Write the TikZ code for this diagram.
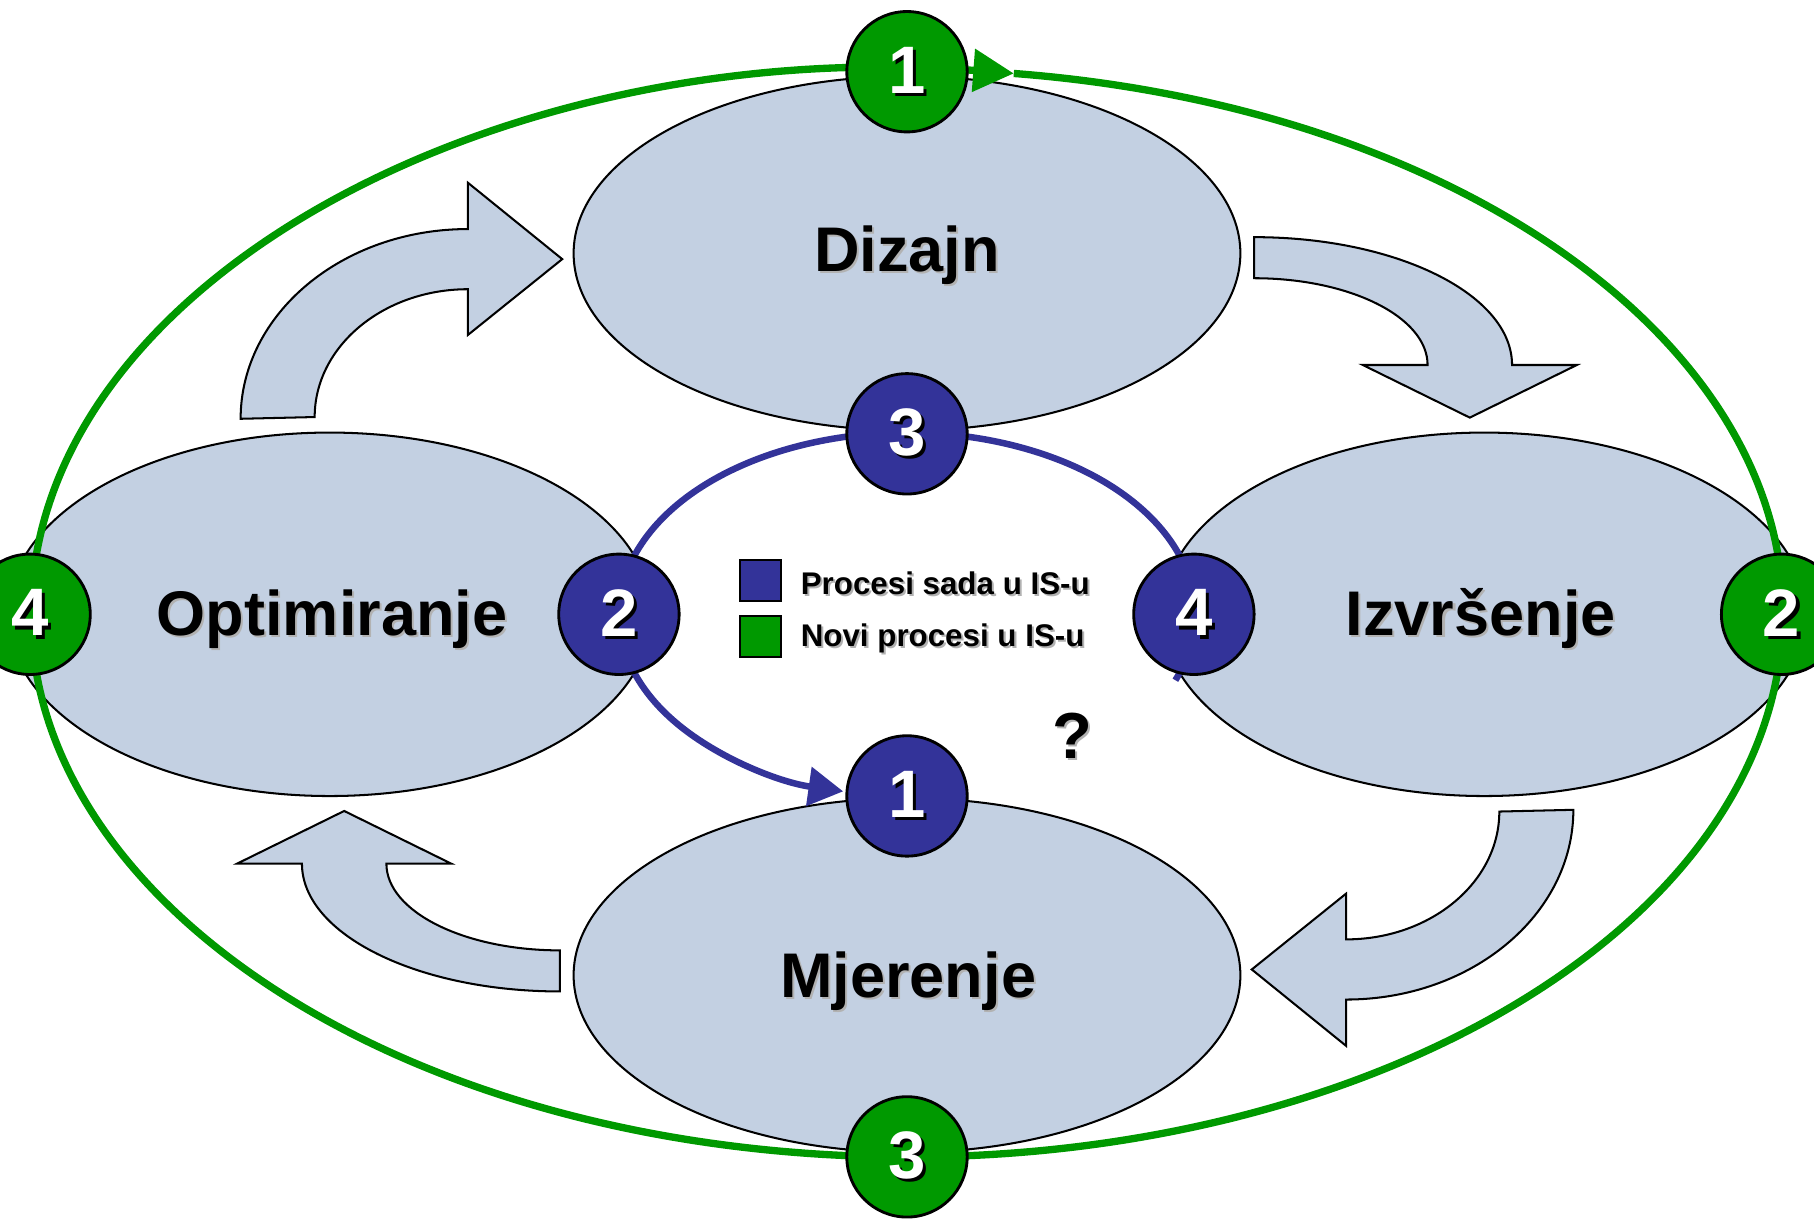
\documentclass[tikz,border=0pt]{standalone}
\usepackage{fontspec}
\setmainfont{Liberation Sans}
\usetikzlibrary{shapes.geometric,arrows.meta}
\definecolor{ellfill}{HTML}{C3D0E2}
\definecolor{pblue}{HTML}{333399}
\definecolor{pgreen}{HTML}{009900}
\newcommand{\numtxt}[1]{\makebox[0pt][l]{\kern0.8pt\raisebox{-0.8pt}{\color{black}#1}}{\color{white}#1}}
\newcommand{\lbltxt}[1]{\makebox[0pt][l]{\kern0.5pt\raisebox{-0.5pt}{\color{black!30}#1}}#1}
\begin{document}
\begin{tikzpicture}[x=0.01cm,y=-0.01cm,
  phase/.style={ellipse,draw=black,line width=0.5pt,fill=ellfill,inner sep=0pt},
  bigarrow/.style={draw=black,line width=0.5pt,fill=ellfill,line join=miter},
  greenline/.style={draw=pgreen,line width=1.8pt},
  blueline/.style={draw=pblue,line width=1.6pt},
  gcirc/.style={circle,fill=pgreen,draw=black,line width=0.7pt,minimum size=1.04cm,inner sep=0pt,font=\fontsize{16.5}{18}\selectfont\bfseries},
  bcirc/.style={circle,fill=pblue,draw=black,line width=0.7pt,minimum size=1.04cm,inner sep=0pt,font=\fontsize{16.5}{18}\selectfont\bfseries},
  phaselabel/.style={anchor=base,inner sep=0pt,font=\fontsize{15.5}{18}\selectfont\bfseries},
  legbox/.style={rectangle,draw=black,line width=0.6pt,minimum size=0.354cm,inner sep=0pt},
  legtext/.style={anchor=base west,inner sep=0pt,font=\fontsize{7.7}{9}\selectfont\bfseries}]
\useasboundingbox (0,0) rectangle (1568,1055);
\coordinate (C) at (784,531);
% phase ellipses
\node[phase,minimum width=5.76cm,minimum height=3.06cm] (dizajn) at (784,219) {};
\node[phase,minimum width=5.76cm,minimum height=3.06cm] (mjerenje) at (784,843) {};
\node[phase,minimum width=5.56cm,minimum height=3.14cm] (optim) at (285,531) {};
\node[phase,minimum width=5.56cm,minimum height=3.14cm] (izvr) at (1283,531) {};
% curved block arrows
\draw[bigarrow] (208,362) arc[start angle=180,end angle=270,x radius=196.5,y radius=164]
  -- (404.5,158) -- (486,224) -- (404.5,289.5) -- (404.5,250)
  arc[start angle=270,end angle=180,x radius=132.5,y radius=110.5] -- cycle;
\draw[bigarrow] (1084,205) arc[start angle=270,end angle=360,x radius=223,y radius=110.5]
  -- (1363,315.5) -- (1270.5,361) -- (1178,315.5) -- (1234,315.5)
  arc[start angle=0,end angle=-90,x radius=150,y radius=75] -- cycle;
\begin{scope}[rotate around={180:(C)}]
\draw[bigarrow] (208,362) arc[start angle=180,end angle=270,x radius=196.5,y radius=164]
  -- (404.5,158) -- (486,224) -- (404.5,289.5) -- (404.5,250)
  arc[start angle=270,end angle=180,x radius=132.5,y radius=110.5] -- cycle;
\draw[bigarrow] (1084,205) arc[start angle=270,end angle=360,x radius=223,y radius=110.5]
  -- (1363,315.5) -- (1270.5,361) -- (1178,315.5) -- (1234,315.5)
  arc[start angle=0,end angle=-90,x radius=150,y radius=75] -- cycle;
\end{scope}
% green cycle
\draw[greenline,-{Triangle[length=0.35cm,width=0.36cm]}] (876.3,63.5)
  arc[start angle=-83,end angle=277,x radius=757,y radius=470];
% blue cycle
\draw[blueline,-{Triangle[length=0.30cm,width=0.33cm]}] (1016,588)
  arc[start angle=21.3,end angle=-257.2,x radius=249,y radius=157];
% numbered circles
\node[gcirc] (g1) at (784,62) {\numtxt{1}};
\node[gcirc] (g2) at (1540,531) {\numtxt{2}};
\node[gcirc] (g3) at (784,1000) {\numtxt{3}};
\node[gcirc] (g4) at (26,531) {\numtxt{4}};
\node[bcirc] (b1) at (784,688) {\numtxt{1}};
\node[bcirc] (b2) at (535,531) {\numtxt{2}};
\node[bcirc] (b3) at (784,375) {\numtxt{3}};
\node[bcirc] (b4) at (1032,531) {\numtxt{4}};
% labels
\node[phaselabel] (tdiz) at (784,235) {\lbltxt{Dizajn}};
\node[phaselabel] (topt) at (287,549) {\lbltxt{Optimiranje}};
\node[phaselabel] (tizv) at (1280,549) {\lbltxt{Izvršenje}};
\node[phaselabel] (tmje) at (785,862) {\lbltxt{Mjerenje}};
\node[inner sep=0pt,font=\fontsize{16}{18}\selectfont\bfseries] (q) at (927,637) {\lbltxt{?}};
% legend
\node[legbox,fill=pblue] (lb1) at (657.5,502) {};
\node[legbox,fill=pgreen] (lb2) at (657.5,550) {};
\node[legtext] (lt1) at (691.5,513.5) {\lbltxt{Procesi sada u IS-u}};
\node[legtext] (lt2) at (691.5,559) {\lbltxt{Novi procesi u IS-u}};
\end{tikzpicture}
\end{document}
